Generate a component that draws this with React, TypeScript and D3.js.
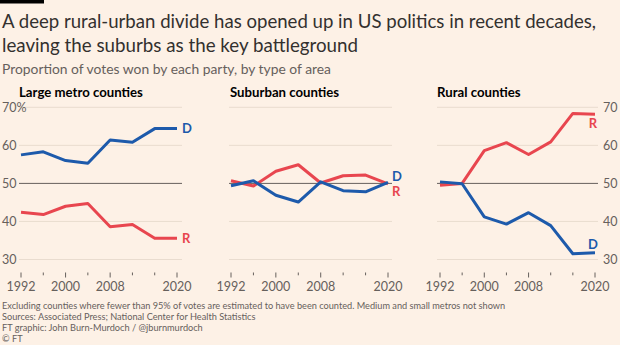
import React from "react";
import * as d3 from "d3";

const years = [1992, 1996, 2000, 2004, 2008, 2012, 2016, 2020];
const majorYears = [1992, 2000, 2008, 2020];
const yTicks = [30, 40, 50, 60, 70];

const panelTitles = ["Large metro counties", "Suburban counties", "Rural counties"];

const metroD = [57.5, 58.3, 56.0, 55.3, 61.4, 60.8, 64.4, 64.4];
const metroR = [42.4, 41.8, 44.0, 44.7, 38.6, 39.2, 35.6, 35.6];
const suburbD = [49.4, 50.7, 46.9, 45.1, 50.4, 48.1, 47.8, 50.3];
const suburbR = [50.7, 49.3, 53.2, 54.9, 50.1, 52.0, 52.2, 49.9];
const ruralD = [50.4, 49.9, 41.2, 39.3, 42.3, 38.9, 31.5, 31.8];
const ruralR = [49.5, 50.0, 58.6, 60.7, 57.6, 60.9, 68.4, 68.2];

const title1 = "A deep rural-urban divide has opened up in US politics in recent decades,";
const title2 = "leaving the suburbs as the key battleground";
const subtitle = "Proportion of votes won by each party, by type of area";
const footer = [
  "Excluding counties where fewer than 95% of votes are estimated to have been counted. Medium and small metros not shown",
  "Sources: Associated Press; National Center for Health Statistics",
  "FT graphic: John Burn-Murdoch / @jburnmurdoch",
  "© FT",
];

const BG = "#fdf1e6";
const BLUE = "#1d5aab";
const RED = "#e8464f";
const INK = "#33302e";
const GREY = "#66605c";
const GRID = "#e9dccf";
const FONT = "Lato, 'Open Sans', sans-serif";

const panels = [
  { title: panelTitles[0], D: metroD, R: metroR, x0: 21, x1: 177, g0: 19, g1: 182, titleX: 19, axis: "left",
    dLab: { dx: 5, dy: 0, anchor: "start" }, rLab: { dx: 5, dy: 0, anchor: "start" } },
  { title: panelTitles[1], D: suburbD, R: suburbR, x0: 231, x1: 388, g0: 229, g1: 392, titleX: 230, axis: "none",
    dLab: { dx: 4, dy: -5.5, anchor: "start" }, rLab: { dx: 4, dy: 7.5, anchor: "start" } },
  { title: panelTitles[2], D: ruralD, R: ruralR, x0: 440, x1: 595, g0: 437, g1: 598, titleX: 437, axis: "right",
    dLab: { dx: -2, dy: -8.5, anchor: "middle" }, rLab: { dx: -2, dy: 9.5, anchor: "middle" } },
];

const y = d3.scaleLinear().domain([30, 70]).range([259.5, 107.3]);

export default function App() {
  return (
    <svg width={620} height={345} style={{ position: "absolute", left: 0, top: 0, background: BG }} fontFamily={FONT}>
      <rect width={620} height={345} fill={BG} />
      <rect x={0} y={0} width={44} height={3.5} fill="#000" />
      <text x={2} y={28} fontSize={19} fill={INK} textLength={594} lengthAdjust="spacingAndGlyphs">{title1}</text>
      <text x={2} y={52} fontSize={19} fill={INK} textLength={356} lengthAdjust="spacingAndGlyphs">{title2}</text>
      <text x={2} y={73.5} fontSize={13} fill={GREY} textLength={329} lengthAdjust="spacingAndGlyphs">{subtitle}</text>

      {panels.map((p, i) => {
        const x = d3.scaleLinear().domain([1992, 2020]).range([p.x0, p.x1]);
        const line = d3.line<number>().x((_, j) => x(years[j])).y((v) => y(v));
        const lastX = x(years[years.length - 1]);
        const lastD = y(p.D[p.D.length - 1]);
        const lastR = y(p.R[p.R.length - 1]);
        return (
          <g key={i}>
            <text x={p.titleX} y={97} fontSize={13.2} fontWeight={700} fill="#000">{p.title}</text>
            {yTicks.map((t) => (
              <line key={t} x1={p.g0} x2={p.g1} y1={y(t)} y2={y(t)} stroke={t === 50 ? GREY : GRID} strokeWidth={1} />
            ))}
            {p.axis === "left" && yTicks.map((t) => (
              <text key={t} x={2} y={y(t)} dy="0.35em" fontSize={12.5} fill={GREY}>{t === 70 ? "70%" : t}</text>
            ))}
            {p.axis === "right" && yTicks.map((t) => (
              <text key={t} x={603} y={y(t)} dy="0.35em" fontSize={12.5} fill={GREY}>{t}</text>
            ))}
            {years.map((yr) => {
              const major = majorYears.includes(yr);
              return (
                <line key={yr} x1={x(yr)} x2={x(yr)} y1={272.5} y2={major ? 277.5 : 275.3} stroke={GREY} strokeWidth={1} />
              );
            })}
            {majorYears.map((yr) => (
              <text key={yr} x={x(yr)} y={290.5} fontSize={12.5} fill={GREY} textAnchor="middle">{yr}</text>
            ))}
            <path d={line(p.R) || ""} fill="none" stroke={RED} strokeWidth={3} strokeLinejoin="round" />
            <path d={line(p.D) || ""} fill="none" stroke={BLUE} strokeWidth={3} strokeLinejoin="round" />
            <text x={lastX + p.dLab.dx} y={lastD + p.dLab.dy} dy="0.36em" fontSize={13} fontWeight={700} fill={BLUE} textAnchor={p.dLab.anchor}>D</text>
            <text x={lastX + p.rLab.dx} y={lastR + p.rLab.dy} dy="0.36em" fontSize={13} fontWeight={700} fill={RED} textAnchor={p.rLab.anchor}>R</text>
          </g>
        );
      })}

      {footer.map((f, i) => (
        <text key={i} x={2} y={308.5 + i * 11} fontSize={9.2} fill={GREY}>{f}</text>
      ))}
    </svg>
  );
}
